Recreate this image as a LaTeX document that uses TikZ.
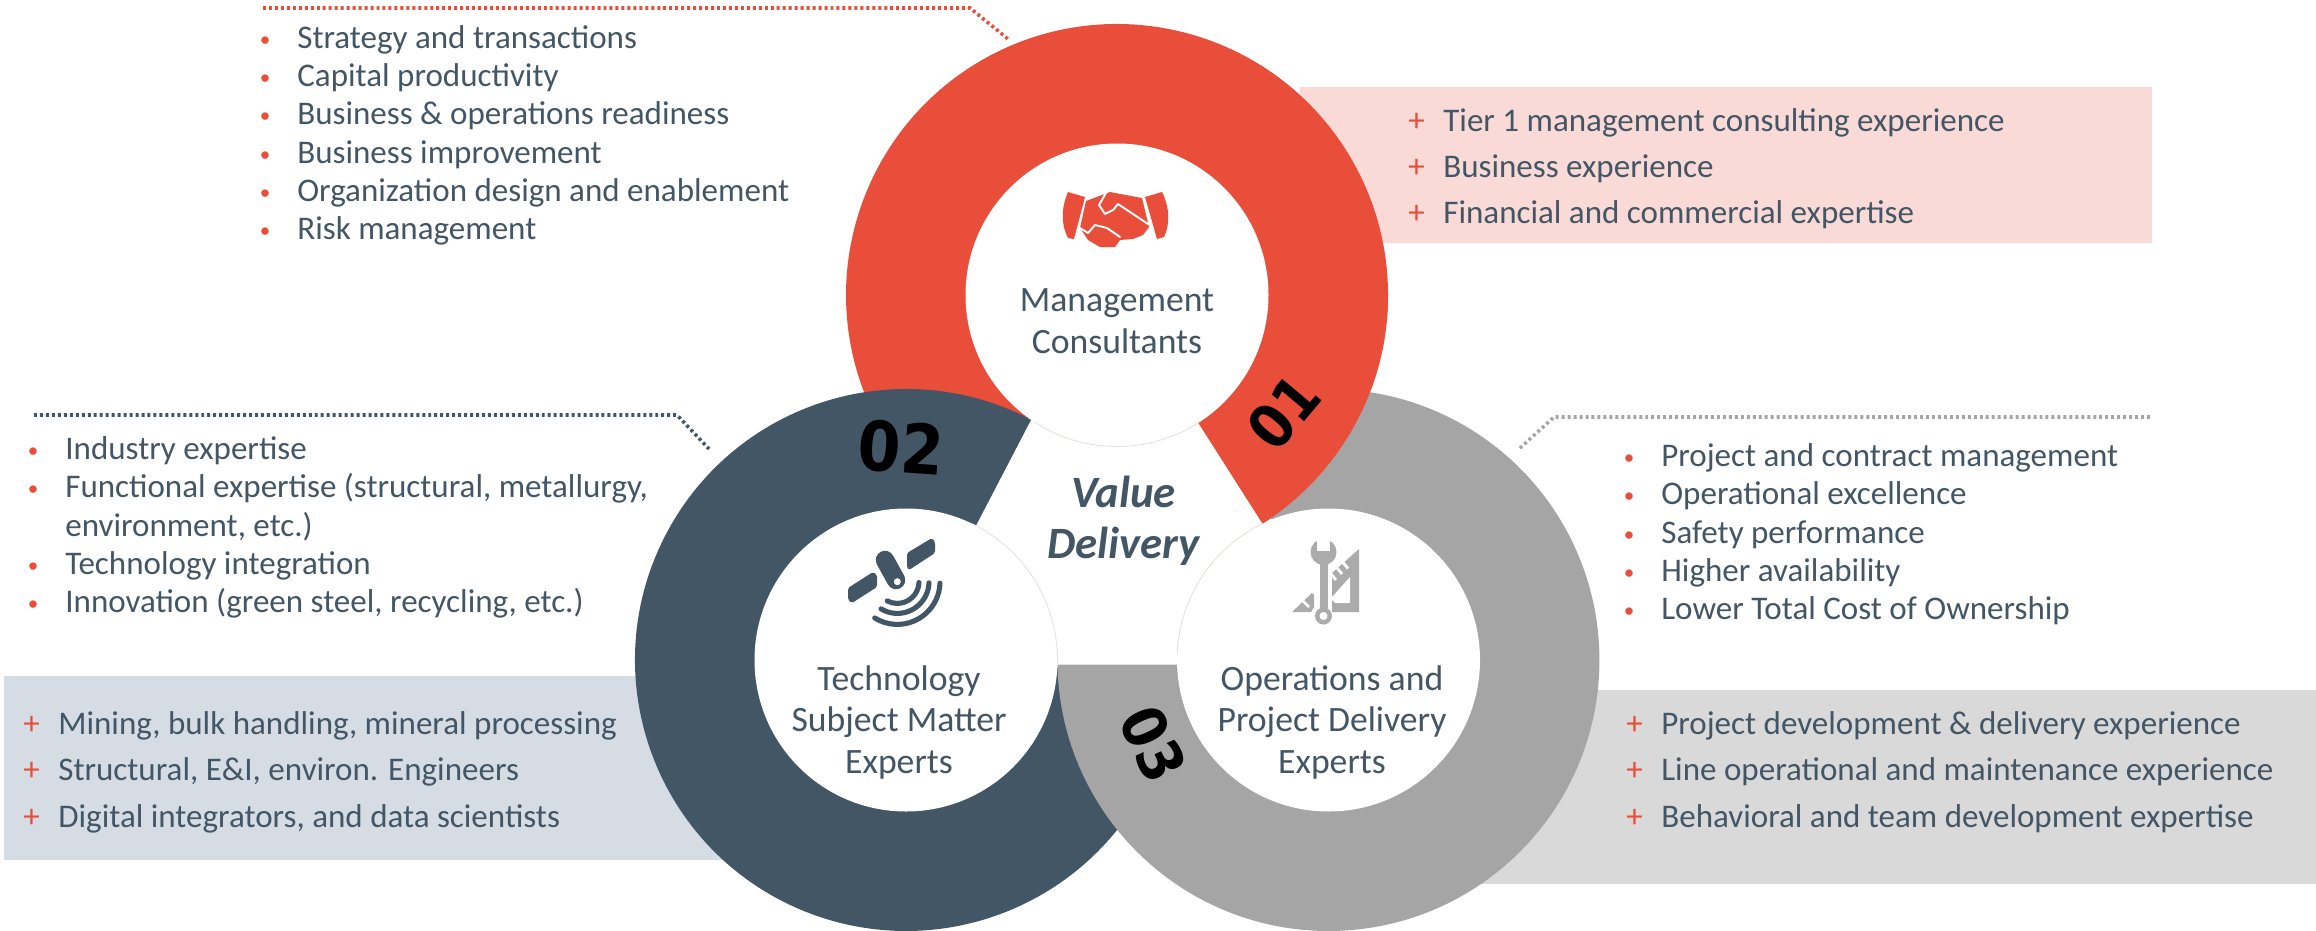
\documentclass[tikz,border=0pt]{standalone}
\usepackage{fontspec}
\usepackage{xcolor}
\usetikzlibrary{calc}
\setmainfont{Carlito}
\newfontfamily\numfont{DejaVu Sans}
\definecolor{redc}{HTML}{E94E3A}
\definecolor{darkc}{HTML}{435665}
\definecolor{greyc}{HTML}{A5A5A5}
\definecolor{iconc}{HTML}{ABABAB}
\definecolor{pinkbg}{HTML}{FADAD6}
\definecolor{bluebg}{HTML}{D6DCE3}
\definecolor{greybg}{HTML}{D9D9D9}
\definecolor{seam}{HTML}{E4E2DA}
\newcommand{\dotm}{\llap{\raisebox{1.2pt}{\textcolor{redc}{\fontsize{12}{12}\selectfont\textbullet}}\hspace{15.3pt}}}
\newcommand{\plusm}{\llap{\textcolor{redc}{+}\hspace{10.5pt}}}
\tikzset{
  lab/.style={text=darkc, font=\fontsize{18.8}{20}\selectfont, anchor=base west, inner sep=0pt, yshift=-0.7pt},
  circLab/.style={text=darkc, font=\fontsize{20.3}{23.6}\selectfont, align=center, anchor=base, inner sep=0pt, yshift=-0.7pt},
  valLab/.style={text=darkc, font=\fontsize{25.5}{29}\selectfont\bfseries\itshape, align=center, anchor=base, inner sep=0pt, yshift=-0.7pt},
  num/.style={text=black, font=\numfont\fontsize{39}{39}\selectfont\bfseries, inner sep=0pt},
  leader/.style={line width=2pt, dash pattern=on 1.7pt off 1.7pt},
  seamLine/.style={line width=0.5pt, draw=seam},
  gap/.style={draw=white, line width=1.1pt, line join=round, line cap=round}
}
\begin{document}
\begin{tikzpicture}[x=0.02cm,y=-0.02cm]
\useasboundingbox (0,0) rectangle (2316,930);
\clip (0,0) rectangle (2316,930);
\coordinate (redC) at (1117,295);
\coordinate (darkC) at (906,660);
\coordinate (greyC) at (1328.5,660);
% bands behind the rings
\fill[pinkbg] (1300,87) rectangle (2152,243);
\fill[bluebg] (4,676) rectangle (740,860);
\fill[greybg] (1480,690) rectangle (2316,884);
% rings, each one over the tail of the next
\fill[redc] (redC) -- ++(57.5:271) arc[start angle=57.5,end angle=-234,radius=271] -- cycle;
\fill[darkc] (darkC) -- ++(-62.5:271) arc[start angle=-62.5,end angle=-357,radius=271] -- cycle;
\fill[greyc] (greyC) -- (1177,665) -- (1057.5,665) arc[start angle=178.94,end angle=-112,radius=271] -- cycle;
\fill[redc] (redC) -- ++(57.5:271) arc[start angle=57.5,end angle=0,radius=271] -- cycle;
\fill[white] (redC) circle[radius=151.5];
\fill[white] (darkC) circle[radius=151.5];
\fill[white] (greyC) circle[radius=151.5];
\draw[seamLine] (redC) ++(123:151.5) arc[start angle=123,end angle=57.5,radius=151.5];
\draw[seamLine] (darkC) ++(-64:151.5) arc[start angle=-64,end angle=2,radius=151.5];
\draw[seamLine] (greyC) ++(-116:151.5) arc[start angle=-116,end angle=-178,radius=151.5];
\draw[seamLine] (1057.5,664.5) -- (1177,664.5);
% handshake
\fill[redc] (1068,192) -- (1085,197) -- (1074,239) -- (1068,238) .. controls (1061,225) and (1061,208) .. cycle;
\fill[redc] (1145,197) -- (1162,192) .. controls (1170,208) and (1170,225) .. (1164,237) -- (1157,239) -- cycle;
\fill[redc] (1086,201) -- (1110,192) -- (1142,198) -- (1149,227) -- (1143,235) -- (1133,239) -- (1120,240) -- (1115,247) -- (1100,247) -- (1088,240) -- (1080,228) -- cycle;
\draw[gap] (1107,191) -- (1099,205) -- (1105,214) -- (1113,210) -- (1118,204) -- (1148,224);
\draw[gap] (1080,228) -- (1088,233) -- (1095,225) -- (1107,228) -- (1120,237);
% satellite
\fill[darkc,rounded corners=1pt] (848,588) -- (873,572) -- (877,575) -- (877,587) -- (852,603) -- (848,600) -- cycle;
\fill[darkc,rounded corners=1pt] (907,553) -- (932,538) -- (935,542) -- (935,553) -- (909,570) -- (907,568) -- cycle;
\draw[darkc,line width=10.5pt,line cap=round] (885,560) -- (896,580);
\fill[white] (897.3,581.7) circle[radius=3.5];
\draw[darkc,line width=2.9pt,line cap=round] (897.3,581.7) ++(2:21.7) arc[start angle=2,end angle=118,radius=21.7];
\draw[darkc,line width=2.9pt,line cap=round] (897.3,581.7) ++(2:31.7) arc[start angle=2,end angle=121,radius=31.7];
\draw[darkc,line width=2.9pt,line cap=round] (897.3,581.7) ++(2:42.7) arc[start angle=2,end angle=122,radius=42.7];
% wrench and set square
\fill[iconc] (1332,573) -- (1359,549) -- (1359,612) -- (1332,612) -- cycle;
\fill[white] (1332,597) -- (1350,577) -- (1350,603) -- (1335,603) -- (1332,600) -- cycle;
\draw[white,line width=1.6pt] (1337,568) -- (1342,574) (1343,562.5) -- (1348,568.5) (1331,574) -- (1336,580);
\fill[iconc] (1292,612) -- (1312,593) -- (1314,595) -- (1314,607) -- (1311,612) -- cycle;
\draw[white,line width=1.6pt] (1303,601) -- (1309,607);
\fill[iconc] (1323.5,552) circle[radius=13];
\fill[white] (1317,537) rectangle (1330,551);
\fill[iconc] (1319.5,560) rectangle (1328,612);
\fill[iconc] (1323.5,616) circle[radius=8.5];
\fill[white] (1323.5,616) circle[radius=4];
% leaders
\coordinate (redA) at (263,8);
\coordinate (redB) at (970,8);
\coordinate (redD) at (1008,39);
\coordinate (darkA) at (34,415);
\coordinate (darkB) at (677,415);
\coordinate (darkD) at (709,449);
\coordinate (greyA) at (2150,417);
\coordinate (greyB) at (1554,417);
\coordinate (greyD) at (1519,449);
\draw[leader,redc] (redA) -- (redB) -- (redD);
\draw[leader,darkc] (darkA) -- (darkB) -- (darkD);
\draw[leader,greyc] (greyA) -- (greyB) -- (greyD);
% ring titles
\node[circLab] (mgmt) at (1117,352) {Management\\Consultants};
\node[circLab] (tech) at (899,772) {Technology\\Subject Matter\\Experts};
\node[circLab] (oper) at (1332,772) {Operations and\\Project Delivery\\Experts};
\node[valLab] (value) at (1123.5,557) {Value\\Delivery};
\node[num,rotate=50] (numA) at (1284,412) {\scalebox{0.78}[0.88]{01}};
\node[num,rotate=-4] (numB) at (901,448) {\scalebox{0.9}[1]{02}};
\node[num,rotate=-65] (numC) at (1153,744) {\scalebox{0.78}[0.88]{03}};
% top left list
\node[lab] (stratA) at (297,47) {\dotm Strategy and transactions};
\node[lab] (stratB) at (297,85.3) {\dotm Capital productivity};
\node[lab] (stratC) at (297,123.6) {\dotm Business \& operations readiness};
\node[lab] (stratD) at (297,162) {\dotm Business improvement};
\node[lab] (stratE) at (297,200) {\dotm Organization design and enablement};
\node[lab] (stratF) at (297,238) {\dotm Risk management};
% pink band
\node[lab] (tierA) at (1443,130) {\plusm Tier 1 management consulting experience};
\node[lab] (tierB) at (1443,176) {\plusm Business experience};
\node[lab] (tierC) at (1443,222.6) {\plusm Financial and commercial expertise};
% left list
\node[lab] (indA) at (65,458) {\dotm Industry expertise};
\node[lab] (indB) at (65,496.7) {\dotm Functional expertise (structural, metallurgy,};
\node[lab] (indC) at (65,535) {environment, etc.)};
\node[lab] (indD) at (65,573) {\dotm Technology integration};
\node[lab] (indE) at (65,611.7) {\dotm Innovation (green steel, recycling, etc.)};
% blue band
\node[lab] (minA) at (58,733) {\plusm Mining, bulk handling, mineral processing};
\node[lab] (minB) at (58,779) {\plusm Structural, E\&I, environ. Engineers};
\node[lab] (minC) at (58,826) {\plusm Digital integrators, and data scientists};
% right list
\node[lab] (projA) at (1661,465) {\dotm Project and contract management};
\node[lab] (projB) at (1661,503) {\dotm Operational excellence};
\node[lab] (projC) at (1661,542) {\dotm Safety performance};
\node[lab] (projD) at (1661,580) {\dotm Higher availability};
\node[lab] (projE) at (1661,618) {\dotm Lower Total Cost of Ownership};
% grey band
\node[lab] (devA) at (1661,733) {\plusm Project development \& delivery experience};
\node[lab] (devB) at (1661,779) {\plusm Line operational and maintenance experience};
\node[lab] (devC) at (1661,826) {\plusm Behavioral and team development expertise};
\end{tikzpicture}
\end{document}
